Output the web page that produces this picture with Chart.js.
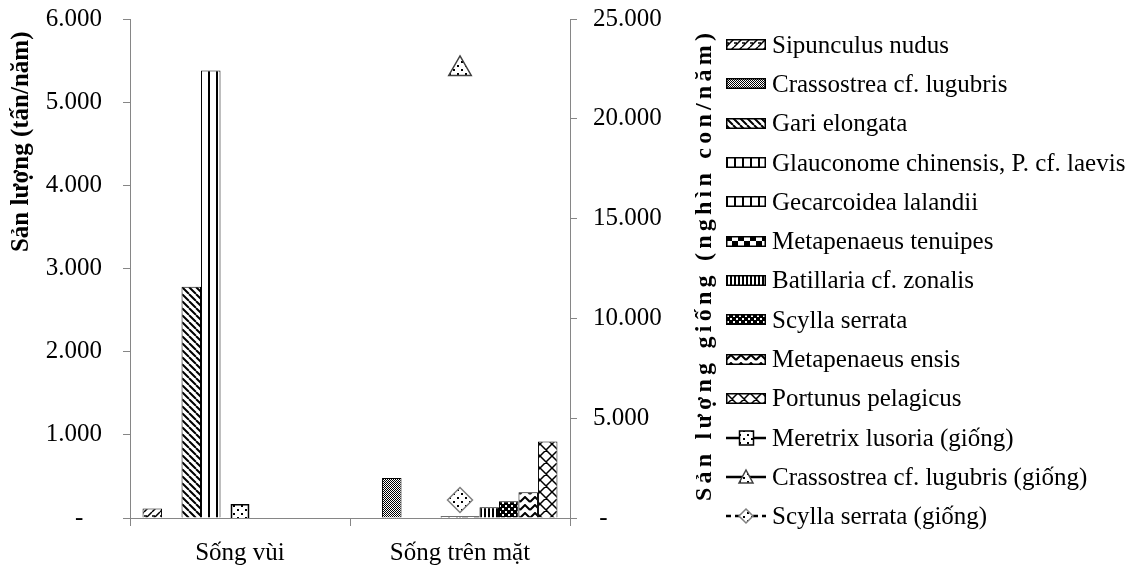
<!DOCTYPE html>
<html lang="vi">
<head>
<meta charset="UTF-8">
<title>Sản lượng</title>
<script src="https://cdn.jsdelivr.net/npm/chart.js"></script>
<style>
  body { margin: 0; background: #fff; }
  #wrap { position: relative; width: 1137px; height: 566px; }
  #legend { position: absolute; left: 726px; top: 25px; font: 25px 'Liberation Serif', 'Times New Roman', serif; color: #000; }
  .item { height: 39.3px; display: flex; align-items: center; white-space: nowrap; }
  .item canvas { margin-right: 6px; }
  #rightTitle { position: absolute; left: 703px; top: 265px; font: bold 24px 'Liberation Serif', 'Times New Roman', serif; white-space: nowrap; transform: translate(-50%, -50%) rotate(-90deg); }
</style>
</head>
<body>
<div id="wrap">
  <canvas id="chart"></canvas>
  <div id="rightTitle">Sản lượng giống (nghìn con/năm)</div>
  <div id="legend"></div>
</div>

<script>
// data
const categories = ['Sống vùi', 'Sống trên mặt'];
const sipunculus = [115, null];
const crassostrea = [null, 480];
const gari = [2780, null];
const glauconome = [5380, null];
const gecarcoidea = [null, 20];
const tenuipes = [null, 20];
const batillaria = [null, 130];
const scylla = [null, 200];
const ensis = [null, 310];
const portunus = [null, 920];
// seed series (right axis)
const meretrixSeed = [240, null];
const crassostreaSeed = [null, 22500];
const scyllaSeed = [null, 900];

const leftMax = 6000, leftStep = 1000;
const rightMax = 25000, rightStep = 5000;

const serif = "'Liberation Serif', 'Times New Roman', serif";
const gray = '#868686';

// pattern tiles, black on white
function tile(w, h, draw) {
    const c = document.createElement('canvas');
    c.width = w; c.height = h;
    const g = c.getContext('2d');
    g.fillStyle = '#fff'; g.fillRect(0, 0, w, h);
    g.fillStyle = '#000'; g.strokeStyle = '#000';
    draw(g, w, h);
    return c;
}

const tiles = {
    weave: tile(8, 8, function (g) {
        g.lineWidth = 1.5;
        g.beginPath();
        g.moveTo(0, 8); g.lineTo(8, 0);
        g.moveTo(-8, 8); g.lineTo(0, 0);
        g.moveTo(8, 8); g.lineTo(16, 0);
        g.moveTo(0, 4); g.lineTo(3, 4);
        g.stroke();
    }),
    dots: tile(2, 2, function (g) {
        g.fillRect(0, 0, 1, 1); g.fillRect(1, 1, 1, 1);
    }),
    downDiag: tile(7, 7, function (g) {
        g.lineWidth = 2;
        g.beginPath();
        [-7, 0, 7].forEach(function (k) { g.moveTo(k, 0); g.lineTo(k + 7, 7); });
        g.stroke();
    }),
    vertWide: tile(8, 2, function (g) { g.fillRect(0, 0, 2, 2); }),
    checker: tile(12, 10, function (g) {
        g.fillRect(0, 0, 6, 5); g.fillRect(6, 5, 6, 5);
    }),
    vertNarrow: tile(4, 2, function (g) { g.fillRect(0, 0, 2, 2); }),
    confetti: tile(6, 6, function (g) {
        g.fillRect(0, 0, 6, 6);
        g.fillStyle = '#fff';
        g.fillRect(1, 1, 2, 2); g.fillRect(4, 4, 2, 2);
    }),
    zigzag: tile(10, 8, function (g) {
        g.lineWidth = 2;
        g.beginPath();
        g.moveTo(0, 6); g.lineTo(5, 1); g.lineTo(10, 6);
        g.stroke();
    }),
    cross: tile(12, 12, function (g) {
        g.lineWidth = 1.5;
        g.beginPath();
        [-12, 0, 12].forEach(function (k) {
            g.moveTo(k, 0); g.lineTo(k + 12, 12);
            g.moveTo(k, 12); g.lineTo(k + 12, 0);
        });
        g.stroke();
    }),
    markerDots: tile(8, 8, function (g) {
        g.fillRect(1, 1, 2, 2); g.fillRect(5, 5, 2, 2);
    })
};

const ctx = document.getElementById('chart').getContext('2d');
function pat(name, c) { return (c || ctx).createPattern(tiles[name], 'repeat'); }

const barSeries = [
    { label: 'Sipunculus nudus', data: sipunculus, tile: 'weave' },
    { label: 'Crassostrea cf. lugubris', data: crassostrea, tile: 'dots' },
    { label: 'Gari elongata', data: gari, tile: 'downDiag' },
    { label: 'Glauconome chinensis, P. cf. laevis', data: glauconome, tile: 'vertWide' },
    { label: 'Gecarcoidea lalandii', data: gecarcoidea, tile: 'vertWide' },
    { label: 'Metapenaeus tenuipes', data: tenuipes, tile: 'checker' },
    { label: 'Batillaria cf. zonalis', data: batillaria, tile: 'vertNarrow' },
    { label: 'Scylla serrata', data: scylla, tile: 'confetti' },
    { label: 'Metapenaeus ensis', data: ensis, tile: 'zigzag' },
    { label: 'Portunus pelagicus', data: portunus, tile: 'cross' }
];

const lineSeries = [
    { label: 'Meretrix lusoria (giống)', data: meretrixSeed, style: 'rect', radius: 12, border: '#000', dash: [] },
    { label: 'Crassostrea cf. lugubris (giống)', data: crassostreaSeed, style: 'triangle', radius: 13, border: '#404040', dash: [] },
    { label: 'Scylla serrata (giống)', data: scyllaSeed, style: 'rectRot', radius: 12.5, border: '#808080', dash: [5, 4] }
];

const datasets = [];
barSeries.forEach(function (s) {
    datasets.push({
        type: 'bar',
        label: s.label,
        data: s.data,
        yAxisID: 'y',
        backgroundColor: pat(s.tile),
        borderColor: '#000',
        borderWidth: 1,
        categoryPercentage: 0.886,
        barPercentage: 1.0
    });
});
lineSeries.forEach(function (s) {
    datasets.push({
        type: 'line',
        label: s.label,
        data: s.data,
        yAxisID: 'y1',
        borderColor: '#000',
        borderWidth: 2.5,
        borderDash: s.dash,
        pointStyle: s.style,
        pointRadius: s.radius,
        pointBorderColor: s.border,
        pointBorderWidth: 1.5,
        pointBackgroundColor: pat('markerDots'),
        spanGaps: false
    });
});

function fmt(v, zero) {
    if (v === 0) return zero;
    return String(v).replace(/\B(?=(\d{3})+(?!\d))/g, '.');
}

const tickFont = { family: serif, size: 25 };

// fixed axis boxes so the plot area sits where the original has it
function fixY(width) {
    return function (s) {
        s.width = width;
        s.paddingTop = 0;
        s.paddingBottom = 0;
    };
}

new Chart(ctx, {
    type: 'bar',
    data: { labels: categories, datasets: datasets },
    options: {
        responsive: true,
        maintainAspectRatio: false,
        animation: false,
        layout: { padding: { top: 19, right: 417, bottom: 0, left: 0 } },
        plugins: { legend: { display: false }, tooltip: { enabled: false } },
        scales: {
            x: {
                grid: { offset: true, drawOnChartArea: false, tickLength: 8, color: gray },
                border: { color: gray },
                ticks: { font: tickFont, color: '#000', padding: 12 },
                afterFit: function (s) { s.height = 48; }
            },
            y: {
                position: 'left',
                min: 0, max: leftMax,
                grid: { drawOnChartArea: false, tickLength: 7, color: gray },
                border: { color: gray },
                ticks: {
                    stepSize: leftStep, font: tickFont, color: '#000', padding: 21,
                    callback: function (v) { return fmt(v, '-   '); }
                },
                title: {
                    display: true, text: 'Sản lượng (tấn/năm)  ', align: 'end',
                    font: { family: serif, size: 25, weight: 'bold' }, color: '#000',
                    padding: { top: 7, bottom: 0 }
                },
                afterFit: fixY(130)
            },
            y1: {
                position: 'right',
                min: 0, max: rightMax,
                grid: { drawOnChartArea: false, tickLength: 7, color: gray },
                border: { color: gray },
                ticks: {
                    stepSize: rightStep, font: tickFont, color: '#000', padding: 16,
                    callback: function (v) { return fmt(v, ' -'); }
                },
                afterFit: fixY(150)
            }
        }
    }
});

// right axis title is stretched in the original
const rt = document.getElementById('rightTitle');
const natural = rt.getBoundingClientRect().height;
rt.style.letterSpacing = ((468 - natural) / (rt.textContent.length - 1)) + 'px';

// legend
const legend = document.getElementById('legend');
function addItem(label, drawSwatch, h) {
    const row = document.createElement('div');
    row.className = 'item';
    const c = document.createElement('canvas');
    c.width = 40; c.height = h;
    drawSwatch(c.getContext('2d'));
    row.appendChild(c);
    const t = document.createElement('span');
    t.textContent = label;
    row.appendChild(t);
    legend.appendChild(row);
}

barSeries.forEach(function (s) {
    addItem(s.label, function (g) {
        g.fillStyle = pat(s.tile, g);
        g.fillRect(0, 0, 40, 11);
        g.strokeStyle = '#000';
        g.lineWidth = 1.5;
        g.strokeRect(0.75, 0.75, 38.5, 9.5);
    }, 11);
});

lineSeries.forEach(function (s) {
    addItem(s.label, function (g) {
        g.strokeStyle = '#000';
        g.lineWidth = 2.5;
        g.setLineDash(s.dash);
        g.beginPath(); g.moveTo(0, 9); g.lineTo(40, 9); g.stroke();
        g.setLineDash([]);
        g.beginPath();
        if (s.style === 'rect') {
            g.rect(13.5, 2, 14, 14);
        } else if (s.style === 'triangle') {
            g.moveTo(20, 2); g.lineTo(27, 15); g.lineTo(13, 15); g.closePath();
        } else {
            g.moveTo(20, 2); g.lineTo(27, 9); g.lineTo(20, 16); g.lineTo(13, 9); g.closePath();
        }
        g.fillStyle = pat('markerDots', g);
        g.fill();
        g.strokeStyle = s.border;
        g.lineWidth = 1.5;
        g.stroke();
    }, 18);
});
</script>
</body>
</html>
